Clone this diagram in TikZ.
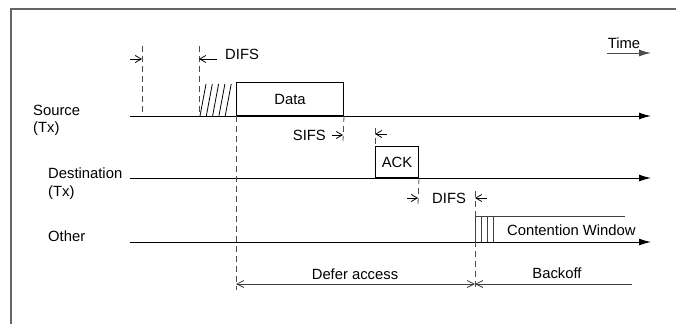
\documentclass[tikz,border=0pt]{standalone}
\usepackage{fontspec}
\setmainfont{Liberation Sans}
\usetikzlibrary{arrows.meta}
\begin{document}
\begin{tikzpicture}[x=1pt,y=-1pt, font=\fontsize{14.8}{17}\selectfont,
  ln/.style={line width=1pt, black},
  thin/.style={line width=0.8pt, black!75},
  dl/.style={line width=0.8pt, dash pattern=on 6pt off 4pt, black!70},
  axis/.style={line width=1pt, -{Latex[length=12pt,width=7pt]}},
  barb/.style={line width=0.8pt, -{Straight Barb[length=6pt,width=7pt]}},
  dbarb/.style={line width=0.8pt, black!75, {Straight Barb[length=7pt,width=7pt]}-{Straight Barb[length=7pt,width=7pt]}},
  lbarb/.style={line width=0.8pt, black!75, {Straight Barb[length=7pt,width=7pt]}-},
  lbl/.style={inner sep=0pt, anchor=west},
  box/.style={draw, line width=1pt, inner sep=0pt, anchor=south west},
  ]
\useasboundingbox (0,0) rectangle (676,324);
% frame
\coordinate (fbl) at (11,324); \coordinate (ftl) at (11,9); \coordinate (ftr) at (676,9);
\draw[line width=1.2pt, black!60] (fbl) -- (ftl) -- (ftr);

% time axes
\coordinate (s0) at (130,116); \coordinate (s1) at (651,116);
\coordinate (d0) at (130,178); \coordinate (d1) at (651,178);
\coordinate (o0) at (130,242); \coordinate (o1) at (651,242);
\draw[axis] (s0) -- (s1);
\draw[axis] (d0) -- (d1);
\draw[axis] (o0) -- (o1);

% station labels
\node[lbl] (src) at (33,110) {Source};
\node[lbl] (srctx) at (33,129) {(Tx)};
\node[lbl] (dst) at (48,173) {Destination};
\node[lbl] (dsttx) at (48,193) {(Tx)};
\node[lbl] (oth) at (48,236) {Other};

% Time legend
\coordinate (t0) at (607,53); \coordinate (t1) at (651,53);
\draw[line width=1pt, black!70, -{Latex[length=12pt,width=7pt]}] (t0) -- (t1);
\node (time) at (624,43) {Time};

% Data and ACK frames
\node[box, minimum width=107pt, minimum height=33pt] (data) at (236,116) {Data};
\node[box, minimum width=43pt, minimum height=31pt] (ack) at (375,178) {ACK};

% first DIFS
\coordinate (a1) at (142,46); \coordinate (a2) at (142,116);
\coordinate (b1) at (199,46); \coordinate (b2) at (199,116);
\draw[dl] (a1) -- (a2);
\draw[dl] (b1) -- (b2);
\coordinate (a3) at (130,59); \coordinate (a4) at (142,59);
\draw[barb] (a3) -- (a4);
\coordinate (b3) at (217,59); \coordinate (b4) at (199,59);
\draw[barb] (b3) -- (b4);
\node[lbl] (difs1) at (225,54) {DIFS};

% hatching
\foreach \i in {0,...,4}{
  \draw[line width=0.8pt] ({200+6.3*\i},116) -- ({206+6.3*\i},84);
}

% defer dashed lines
\coordinate (c2) at (236,290);
\draw[dl] (data.south west) -- (c2);
\coordinate (e2) at (343,141);
\draw[dl] (data.south east) -- (e2);
\coordinate (sf1) at (332,135); \coordinate (sf2) at (343,135);
\draw[barb] (sf1) -- (sf2);
\node[inner sep=0pt, anchor=east] (sifs) at (326,135) {SIFS};

\coordinate (k1) at (375,128);
\draw[dl] (k1) -- (ack.north west);
\coordinate (k3) at (387,134); \coordinate (k4) at (375,134);
\draw[barb] (k3) -- (k4);

% second DIFS
\coordinate (g2) at (418,204);
\draw[dl] (ack.south east) -- (g2);
\coordinate (g3) at (407,198); \coordinate (g4) at (418,198);
\draw[barb] (g3) -- (g4);
\node[lbl] (difs2) at (432,198) {DIFS};
\coordinate (h1) at (475,191); \coordinate (h2) at (475,290);
\draw[dl] (h1) -- (h2);
\coordinate (h3) at (487,198); \coordinate (h4) at (475,198);
\draw[barb] (h3) -- (h4);

% contention window
\coordinate (cw0) at (475,216); \coordinate (cw1) at (625,216);
\draw[thin] (cw0) -- (cw1);
\foreach \x in {475,481,487,493}{
  \draw[thin] (\x,216) -- (\x,242);
}
\node[lbl] (cw) at (507,230) {Contention Window};

% defer access and backoff
\coordinate (da0) at (236,284); \coordinate (da1) at (475,284);
\draw[dbarb] (da0) -- (da1);
\node (defer) at (355,274) {Defer access};
\coordinate (bo1) at (632,284);
\draw[lbarb] (da1) -- (bo1);
\node (backoff) at (557,273) {Backoff};
\end{tikzpicture}
\end{document}
